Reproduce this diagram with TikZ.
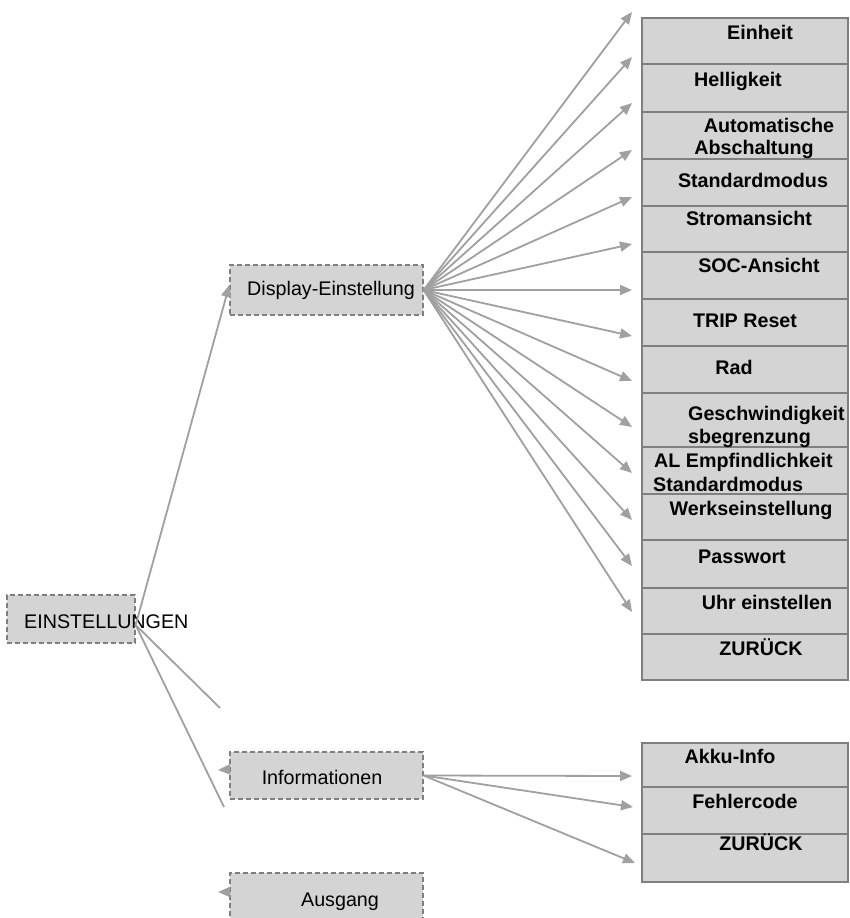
\documentclass[tikz,border=0pt]{standalone}
\usepackage{fontspec}
\setmainfont{Liberation Sans}
\usetikzlibrary{arrows.meta}
\definecolor{boxfill}{HTML}{D4D4D4}
\definecolor{edgegray}{HTML}{A0A0A0}
\definecolor{framegray}{HTML}{7F7F7F}
\begin{document}
\begin{tikzpicture}[x=1pt,y=-1pt,
  menubox/.style={draw=framegray, dash pattern=on 5pt off 3pt, line width=1.3pt, fill=boxfill, minimum width=193pt, inner sep=0pt},
  rowbox/.style={draw=framegray, line width=1.8pt, fill=boxfill, minimum width=206pt, inner sep=0pt},
  itemtext/.style={font=\fontsize{19.7pt}{22pt}\selectfont\bfseries, inner sep=0pt, anchor=base},
  menutext/.style={font=\fontsize{19.7pt}{22pt}\selectfont, inner sep=0pt, anchor=base},
  arr/.style={draw=edgegray, line width=1.8pt, -{Triangle[length=12pt,width=10pt]}},
  plainline/.style={draw=edgegray, line width=1.8pt}]
\clip (0,0) rectangle (849,918);
\fill[white] (0,0) rectangle (849,918);

% left menu boxes
\node[menubox, minimum width=128pt, minimum height=48pt] (einst) at (71,619) {};
\node[menubox, minimum height=50pt] (disp) at (326.5,290) {};
\node[menubox, minimum height=47pt] (info) at (326.5,775.5) {};
\node[menubox, minimum height=48pt] (ausg) at (326.5,897) {};

% main table rows
\node[rowbox, minimum height=46pt] (r1) at (745,41) {};
\node[rowbox, minimum height=48pt] (r2) at (745,88) {};
\node[rowbox, minimum height=47pt] (r3) at (745,135.5) {};
\node[rowbox, minimum height=47pt] (r4) at (745,182.5) {};
\node[rowbox, minimum height=46pt] (r5) at (745,229) {};
\node[rowbox, minimum height=47pt] (r6) at (745,275.5) {};
\node[rowbox, minimum height=47pt] (r7) at (745,322.5) {};
\node[rowbox, minimum height=47pt] (r8) at (745,369.5) {};
\node[rowbox, minimum height=54pt] (r9) at (745,420) {};
\node[rowbox, minimum height=47pt] (r10) at (745,470.5) {};
\node[rowbox, minimum height=46pt] (r11) at (745,517) {};
\node[rowbox, minimum height=48pt] (r12) at (745,564) {};
\node[rowbox, minimum height=46pt] (r13) at (745,611) {};
\node[rowbox, minimum height=46pt] (r14) at (745,657) {};

% info table rows
\node[rowbox, minimum height=44pt] (s1) at (745,765) {};
\node[rowbox, minimum height=47pt] (s2) at (745,810.5) {};
\node[rowbox, minimum height=48pt] (s3) at (745,858) {};

% texts of table
\node[itemtext] (e1) at (760,39) {Einheit};
\node[itemtext] (e2) at (738,86) {Helligkeit};
\node[itemtext] (e3a) at (769,132) {Automatische};
\node[itemtext] (e3b) at (754,154) {Abschaltung};
\node[itemtext] (e4) at (753,187) {Standardmodus};
\node[itemtext] (e5) at (749,225) {Stromansicht};
\node[itemtext] (e6) at (759,272) {SOC-Ansicht};
\node[itemtext] (e7) at (745,327) {TRIP Reset};
\node[itemtext] (e8) at (734,374) {Rad};
\node[itemtext, anchor=base west] (e9a) at (688,420) {Geschwindigkeit};
\node[itemtext, anchor=base west] (e9b) at (688,443) {sbegrenzung};
\node[itemtext, anchor=base west] (e10a) at (654,467) {AL Empfindlichkeit};
\node[itemtext, anchor=base west] (e10b) at (653,491) {Standardmodus};
\node[itemtext] (e11) at (751,515) {Werkseinstellung};
\node[itemtext] (e12) at (742,563) {Passwort};
\node[itemtext] (e13) at (767,609) {Uhr einstellen};
\node[itemtext] (e14) at (761,655) {ZURÜCK};
\node[itemtext] (f1) at (730,763) {Akku-Info};
\node[itemtext] (f2) at (745,808) {Fehlercode};
\node[itemtext] (f3) at (761,850) {ZURÜCK};

% texts of menu boxes
\node[menutext, anchor=base west] (einstt) at (24,628) {EINSTELLUNGEN};
\node[menutext] (dispt) at (331,295) {Display-Einstellung};
\node[menutext] (infot) at (322,784) {Informationen};
\node[menutext] (ausgt) at (340,906) {Ausgang};

% connectors from EINSTELLUNGEN
\coordinate (es) at ([yshift=-6pt]einst.east);
\coordinate (l1) at (220,708);
\coordinate (l2) at (224,807);
\draw[arr] (es) -- ([yshift=5pt]disp.west);
\draw[plainline] (es) -- (l1);
\draw[plainline] (es) -- (l2);

% fan from Display-Einstellung
\foreach \i/\yy in {1/12,2/57,3/103,4/150,5/197,6/244,7/290,8/336,9/381,10/427,11/473,12/520,13/566,14/612}{
  \coordinate (t\i) at (632,\yy);
  \draw[arr] (disp.east) -- (t\i);
}

% fan from Informationen
\coordinate (u1) at (632,776);
\coordinate (u2) at (633,807);
\coordinate (u3) at (635,863);
\draw[arr] (info.east) -- (u1);
\draw[arr] (info.east) -- (u2);
\draw[arr] (info.east) -- (u3);

% lone arrow heads on the left of Informationen and Ausgang
\coordinate (ia) at (218,770);
\coordinate (aa) at (218,892);
\draw[arr] ([yshift=6pt]info.west) -- (ia);
\draw[arr] ([yshift=5pt]ausg.west) -- (aa);
\end{tikzpicture}
\end{document}
